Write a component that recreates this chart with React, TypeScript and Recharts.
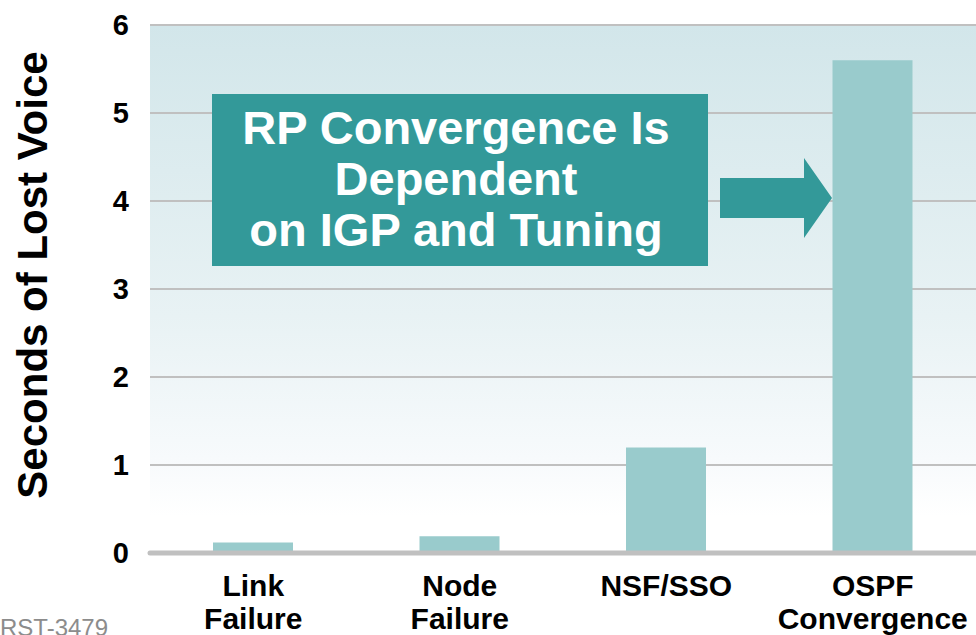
import React from 'react';
import { BarChart, Bar, XAxis, YAxis, CartesianGrid } from 'recharts';

const categories = ['Link Failure', 'Node Failure', 'NSF/SSO', 'OSPF Convergence'];
const lostVoice = [0.12, 0.19, 1.2, 5.6];
const yTicks = [0, 1, 2, 3, 4, 5, 6];

const data = categories.map((name, i) => ({ name, value: lostVoice[i] }));

const font = '"Liberation Sans", Arial, sans-serif';

function CategoryTick(props: any) {
  const { x, y, payload } = props;
  const lines = String(payload.value).split(' ');
  return (
    <text x={x} y={y} textAnchor="middle" fontFamily={font} fontWeight="bold" fontSize={30} fill="#000">
      {lines.map((line, i) => (
        <tspan key={i} x={x} dy={i === 0 ? 43 : 33}>{line}</tspan>
      ))}
    </text>
  );
}

export default function App() {
  return (
    <div style={{ position: 'absolute', left: 0, top: 0, width: 976, height: 635, overflow: 'hidden', background: '#fff' }}>
      <BarChart width={976} height={635} data={data} margin={{ top: 25, right: 0, bottom: 0, left: 0 }} barCategoryGap={0}>
        <defs>
          <linearGradient id="bg" x1="0" y1="0" x2="0" y2="1">
            <stop offset="0" stopColor="#d2e6ea" />
            <stop offset="0.55" stopColor="#e8f2f4" />
            <stop offset="0.82" stopColor="#f7fafc" />
            <stop offset="0.93" stopColor="#ffffff" />
            <stop offset="1" stopColor="#ffffff" />
          </linearGradient>
        </defs>
        <CartesianGrid vertical={false} stroke="#c0c0c0" strokeWidth={2} fill="url(#bg)" fillOpacity={1} />
        <XAxis
          dataKey="name"
          height={82}
          tickLine={false}
          tickSize={0}
          tickMargin={0}
          interval={0}
          axisLine={{ stroke: '#c0c0c0', strokeWidth: 5, strokeLinecap: 'round' }}
          tick={<CategoryTick />}
        />
        <YAxis
          width={150}
          domain={[0, 6]}
          ticks={yTicks}
          axisLine={false}
          tickLine={false}
          tickSize={0}
          tickMargin={21}
          tick={{ fontFamily: font, fontWeight: 'bold', fontSize: 29, fill: '#000' }}
          label={{
            content: () => (
              <text transform="translate(47,275) rotate(-90)" textAnchor="middle" fontFamily={font} fontWeight="bold" fontSize={42} fill="#000">
                Seconds of Lost Voice
              </text>
            ),
          }}
        />
        <Bar dataKey="value" fill="#99cbcc" barSize={80} isAnimationActive={false} />
      </BarChart>
      <svg width={976} height={635} style={{ position: 'absolute', left: 0, top: 0, pointerEvents: 'none' }}>
        <rect x={212} y={94} width={496} height={172} fill="#339999" />
        <g fontFamily={font} fontWeight="bold" fontSize={47} fill="#fff" textAnchor="middle">
          <text x={456} y={144}>RP Convergence Is</text>
          <text x={456} y={195}>Dependent</text>
          <text x={456} y={246}>on IGP and Tuning</text>
        </g>
        <polygon points="720,178 804,178 804,158 832,198 804,238 804,218 720,218" fill="#339999" />
        <text x={0} y={636} fontFamily={font} fontSize={24} fill="#8c8c8c">RST-3479</text>
      </svg>
    </div>
  );
}
